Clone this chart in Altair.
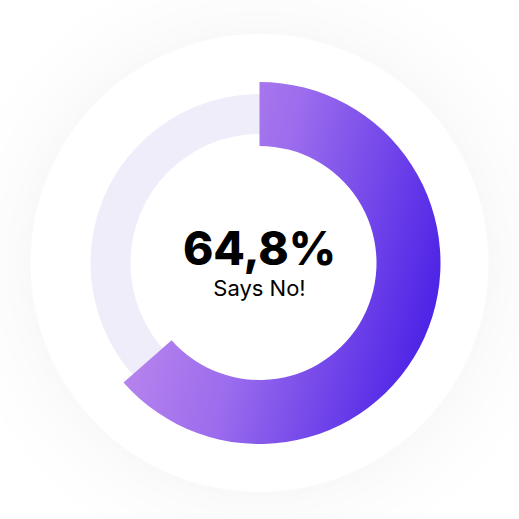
import math
import altair as alt
import pandas as pd

# ---- data ----
answer_labels = ["Says No!"]
answer_values = [64.8]          # percent shown in the centre
value_text = ["64,8%"]

# halo rings around the white disc
halo_radii = [300, 280, 265, 252, 242, 235]

arc_df = pd.DataFrame({"label": answer_labels, "start": [0.0], "end": answer_values})
full_df = pd.DataFrame({"start": [0.0], "end": [100.0]})
text_df = pd.DataFrame({"big": value_text, "small": answer_labels})

theta_scale = alt.Scale(domain=[0, 102], range=[0, 2 * math.pi])
full_scale = alt.Scale(domain=[0, 100], range=[0, 2 * math.pi])


def full_ring(color, r, r2=None, opacity=1.0):
    enc = dict(
        theta=alt.Theta("start:Q", scale=full_scale),
        theta2="end:Q",
        radius=alt.value(r),
    )
    if r2 is not None:
        enc["radius2"] = alt.value(r2)
    return alt.Chart(full_df).mark_arc(color=color, opacity=opacity).encode(**enc)


layers = [full_ring("#e2e7f3", r, opacity=0.05) for r in halo_radii]
white = full_ring("#ffffff", 229)
track = full_ring("#f0edfb", 169, 129)
base = alt.layer(*layers, white, track)

grad = alt.Gradient(
    gradient="linear",
    stops=[
        alt.GradientStop(color="#c38eed", offset=0),
        alt.GradientStop(color="#9b6ced", offset=0.45),
        alt.GradientStop(color="#4c22e6", offset=1),
    ],
    x1=0, y1=0.3, x2=1, y2=0.6,
)

value_arc = alt.Chart(arc_df).mark_arc(color=grad).encode(
    theta=alt.Theta("start:Q", scale=theta_scale),
    theta2="end:Q",
    radius=alt.value(181),
    radius2=alt.value(117),
)

big_text = alt.Chart(text_df).mark_text(
    font="Inter", fontSize=46, fontWeight=800, color="#000000",
    baseline="alphabetic", align="center", dy=2,
).encode(text="big:N")

small_text = alt.Chart(text_df).mark_text(
    font="Inter", fontSize=22, fontWeight=400, color="#000000",
    baseline="alphabetic", align="center", dy=33,
).encode(text="small:N")

chart = alt.layer(base, value_arc, big_text, small_text).resolve_scale(
    theta="independent"
).properties(
    width=519,
    height=519,
    padding={"top": 7, "left": 0, "right": 0, "bottom": 0},
    autosize=alt.AutoSizeParams(type="fit", contains="padding"),
    background="#ffffff",
).configure_view(stroke=None)

chart.save("out.html", embed_options={"renderer": "svg", "actions": False})
